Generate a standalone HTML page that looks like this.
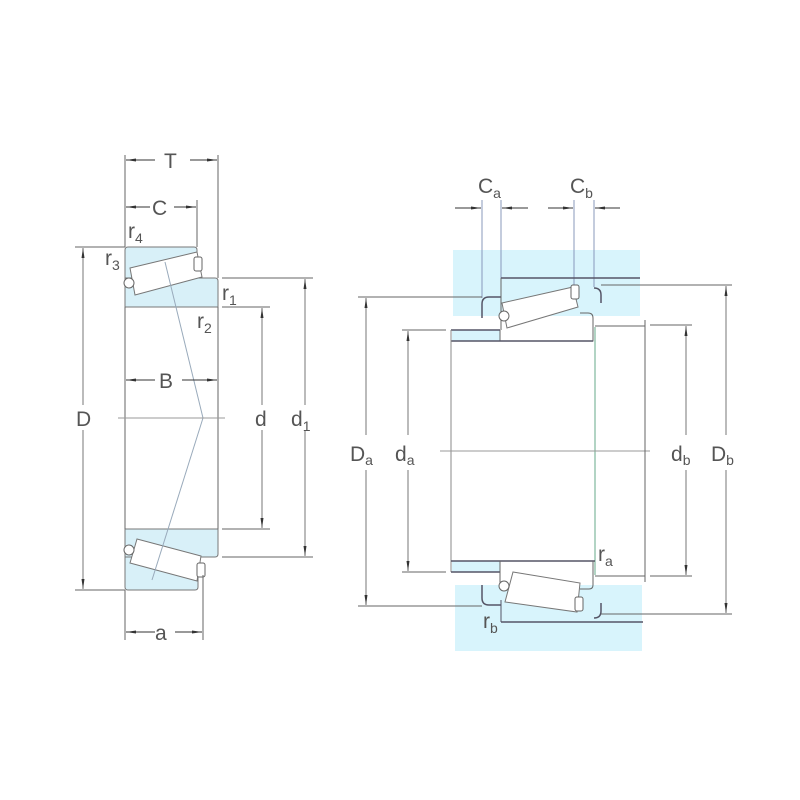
<!DOCTYPE html>
<html><head><meta charset="utf-8"><style>
html,body{margin:0;padding:0;background:#fff}
svg{display:block}
text{font-family:"Liberation Sans",sans-serif;fill:#555}
</style></head><body>
<svg width="800" height="800" viewBox="0 0 800 800" xmlns="http://www.w3.org/2000/svg">
<defs>
<marker id="ar" markerWidth="10" markerHeight="6" refX="10" refY="3" orient="auto" markerUnits="userSpaceOnUse"><path d="M0,1.5 L10,3 L0,4.5z" fill="#333"/></marker>
</defs>
<g stroke="#666" stroke-width="1" fill="none">
<!-- LEFT bearing -->
<path d="M125,250 q0,-3 3,-3 h66 q3,0 3,3 v28 H125z" fill="#d8f0f8" stroke="#777"/>
<path d="M125,278 H215 q3,0 3,3 v26 H125z" fill="#d8f0f8" stroke="#777"/>
<path d="M130,268 L197,252 L202,277 L135,295 z" fill="#fff" stroke="#777"/>
<rect x="194" y="257" width="8" height="14" rx="2" fill="#fff"/>
<circle cx="129" cy="283" r="5" fill="#fff"/>
<path d="M125,529 H218 v25 q0,3 -3,3 H125z" fill="#d8f0f8" stroke="#777"/>
<path d="M125,557 H198 v30 q0,3 -3,3 H128 q-3,0 -3,-3z" fill="#d8f0f8" stroke="#777"/>
<path d="M137,539 L201,556 L197,581 L130,563 z" fill="#fff" stroke="#777"/>
<rect x="197" y="563" width="8" height="14" rx="2" fill="#fff"/>
<circle cx="129" cy="550" r="5" fill="#fff"/>
<line x1="125" y1="307" x2="125" y2="529"/>
<line x1="218" y1="307" x2="218" y2="529"/>
<line x1="165" y1="262" x2="203" y2="418" stroke="#9ab"/>
<line x1="203" y1="418" x2="152" y2="580" stroke="#9ab"/>
<line x1="118" y1="418" x2="225" y2="418" stroke="#999"/>
<line x1="125" y1="155" x2="125" y2="247"/>
<line x1="218" y1="155" x2="218" y2="278"/>
<line x1="197" y1="200" x2="197" y2="247"/>
<line x1="125" y1="590" x2="125" y2="640"/>
<line x1="203" y1="575" x2="203" y2="640"/>
<line x1="75" y1="247" x2="125" y2="247"/>
<line x1="75" y1="590" x2="125" y2="590"/>
<line x1="222" y1="278" x2="313" y2="278"/>
<line x1="222" y1="557" x2="313" y2="557"/>
<line x1="222" y1="307" x2="270" y2="307"/>
<line x1="222" y1="529" x2="270" y2="529"/>
<line x1="155" y1="160" x2="126" y2="160" marker-end="url(#ar)" stroke="#333"/>
<line x1="190" y1="160" x2="217" y2="160" marker-end="url(#ar)" stroke="#333"/>
<line x1="150" y1="207" x2="126" y2="207" marker-end="url(#ar)" stroke="#333"/>
<line x1="174" y1="207" x2="196" y2="207" marker-end="url(#ar)" stroke="#333"/>
<line x1="155" y1="380" x2="126" y2="380" marker-end="url(#ar)" stroke="#333"/>
<line x1="182" y1="380" x2="217" y2="380" marker-end="url(#ar)" stroke="#333"/>
<line x1="155" y1="632" x2="126" y2="632" marker-end="url(#ar)" stroke="#333"/>
<line x1="175" y1="632" x2="202" y2="632" marker-end="url(#ar)" stroke="#333"/>
<line x1="83" y1="405" x2="83" y2="248" marker-end="url(#ar)" stroke="#777"/>
<line x1="83" y1="430" x2="83" y2="589" marker-end="url(#ar)" stroke="#777"/>
<line x1="262" y1="405" x2="262" y2="308" marker-end="url(#ar)" stroke="#777"/>
<line x1="262" y1="430" x2="262" y2="528" marker-end="url(#ar)" stroke="#777"/>
<line x1="305" y1="405" x2="305" y2="279" marker-end="url(#ar)" stroke="#777"/>
<line x1="305" y1="430" x2="305" y2="556" marker-end="url(#ar)" stroke="#777"/>

<!-- RIGHT -->
<rect x="453" y="250" width="187" height="66" fill="#d8f4fc" stroke="none"/>
<rect x="455" y="585" width="187" height="66" fill="#d8f4fc" stroke="none"/>
<rect x="452" y="330" width="48" height="11" fill="#d8f4fc" stroke="none"/>
<rect x="452" y="561" width="48" height="11" fill="#d8f4fc" stroke="none"/>
<line x1="482" y1="200" x2="482" y2="298" stroke="#8899bb"/>
<line x1="501" y1="200" x2="501" y2="280" stroke="#8899bb"/>
<line x1="574" y1="200" x2="574" y2="285" stroke="#8899bb"/>
<line x1="594" y1="200" x2="594" y2="287" stroke="#8899bb"/>
<line x1="455" y1="208" x2="481" y2="208" marker-end="url(#ar)" stroke="#333"/>
<line x1="528" y1="208" x2="502" y2="208" marker-end="url(#ar)" stroke="#333"/>
<line x1="548" y1="208" x2="573" y2="208" marker-end="url(#ar)" stroke="#333"/>
<line x1="620" y1="208" x2="595" y2="208" marker-end="url(#ar)" stroke="#333"/>
<line x1="501" y1="278" x2="640" y2="278" stroke="#556" stroke-width="1.5"/>
<path d="M482,318 v-14 q0,-7 7,-7 h12" stroke="#556" stroke-width="1.5"/>
<path d="M594,288 q7,0 7,7 v8" stroke="#556" stroke-width="1.5"/>
<line x1="358" y1="297" x2="482" y2="297"/>
<line x1="601" y1="285" x2="732" y2="285"/>
<!-- top bearing right -->
<path d="M501,278 V330"/>
<path d="M500,330 V341 H593 V318 q0,-5 -5,-5 H580"/>
<path d="M502,303 L573,287 L578,307 L507,328z" fill="#fff" stroke="#777"/>
<rect x="571" y="285" width="8" height="14" rx="2" fill="#fff"/>
<circle cx="504" cy="316" r="5" fill="#fff"/>
<line x1="451" y1="330" x2="500" y2="330" stroke="#556" stroke-width="1.5"/>
<line x1="451" y1="341" x2="593" y2="341" stroke="#556" stroke-width="1.5"/>
<line x1="451" y1="330" x2="451" y2="572" stroke="#888"/>
<line x1="595" y1="327" x2="595" y2="575" stroke="#6a8"/>
<line x1="451" y1="561" x2="595" y2="561" stroke="#556" stroke-width="1.5"/>
<line x1="451" y1="572" x2="500" y2="572" stroke="#556" stroke-width="1.5"/>
<line x1="440" y1="451" x2="650" y2="451" stroke="#999"/>
<line x1="595" y1="326" x2="645" y2="326"/>
<line x1="645" y1="320" x2="645" y2="582"/>
<line x1="595" y1="576" x2="645" y2="576"/>
<line x1="650" y1="325" x2="692" y2="325"/>
<line x1="650" y1="576" x2="692" y2="576"/>
<line x1="402" y1="330" x2="446" y2="330"/>
<line x1="402" y1="572" x2="446" y2="572"/>
<!-- bottom bearing right -->
<path d="M500,561 V582 q0,3 3,3 H510"/>
<path d="M593,561 V585 q0,4 -4,4 H580"/>
<path d="M513,572 L580,583 L577,612 L505,602z" fill="#fff" stroke="#777"/>
<rect x="575" y="597" width="8" height="14" rx="2" fill="#fff"/>
<circle cx="504" cy="586" r="5" fill="#fff"/>
<path d="M482,585 v13 q0,7 7,7 h12" stroke="#556" stroke-width="1.5"/>
<path d="M594,618 q7,0 7,-7 v-8" stroke="#556" stroke-width="1.5"/>
<line x1="501" y1="600" x2="501" y2="622" stroke="#556"/>
<line x1="501" y1="622" x2="643" y2="622" stroke="#556" stroke-width="1.5"/>
<line x1="358" y1="606" x2="482" y2="606"/>
<line x1="601" y1="614" x2="732" y2="614"/>
<line x1="366" y1="435" x2="366" y2="298" marker-end="url(#ar)" stroke="#777"/>
<line x1="366" y1="470" x2="366" y2="605" marker-end="url(#ar)" stroke="#777"/>
<line x1="408" y1="435" x2="408" y2="331" marker-end="url(#ar)" stroke="#777"/>
<line x1="408" y1="470" x2="408" y2="571" marker-end="url(#ar)" stroke="#777"/>
<line x1="686" y1="435" x2="686" y2="326" marker-end="url(#ar)" stroke="#777"/>
<line x1="686" y1="470" x2="686" y2="575" marker-end="url(#ar)" stroke="#777"/>
<line x1="726" y1="435" x2="726" y2="286" marker-end="url(#ar)" stroke="#777"/>
<line x1="726" y1="470" x2="726" y2="613" marker-end="url(#ar)" stroke="#777"/>
</g>
<g font-size="21">
<text x="164" y="168">T</text>
<text x="152" y="215">C</text>
<text x="159" y="388">B</text>
<text x="155" y="640">a</text>
<text x="76" y="426">D</text>
<text x="255" y="426">d</text>
<text x="291" y="426">d<tspan font-size="14" dy="5">1</tspan></text>
<text x="128" y="238">r<tspan font-size="14" dy="5">4</tspan></text>
<text x="105" y="265">r<tspan font-size="14" dy="5">3</tspan></text>
<text x="222" y="300">r<tspan font-size="14" dy="5">1</tspan></text>
<text x="197" y="328">r<tspan font-size="14" dy="5">2</tspan></text>
<text x="478" y="193">C<tspan font-size="14" dy="5">a</tspan></text>
<text x="570" y="193">C<tspan font-size="14" dy="5">b</tspan></text>
<text x="350" y="461">D<tspan font-size="14" dy="4">a</tspan></text>
<text x="395" y="461">d<tspan font-size="14" dy="4">a</tspan></text>
<text x="671" y="461">d<tspan font-size="14" dy="4">b</tspan></text>
<text x="711" y="461">D<tspan font-size="14" dy="4">b</tspan></text>
<text x="598" y="561">r<tspan font-size="14" dy="5">a</tspan></text>
<text x="483" y="628">r<tspan font-size="14" dy="5">b</tspan></text>
</g>
</svg>
</body></html>
